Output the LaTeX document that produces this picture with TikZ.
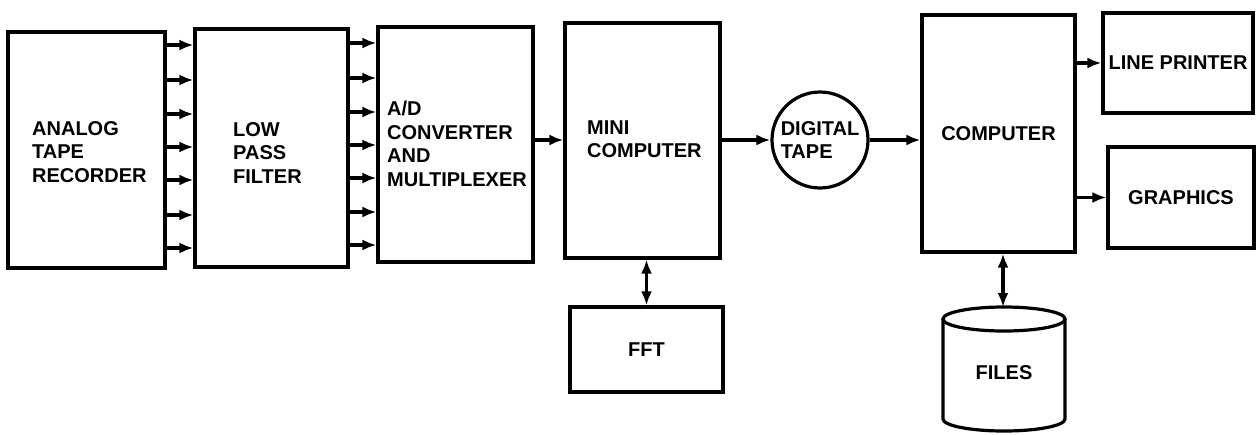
\documentclass[tikz,border=0pt]{standalone}
\usepackage{fontspec}
\setmainfont{Liberation Sans}
\usetikzlibrary{arrows.meta}
\begin{document}
\begin{tikzpicture}[x=1pt,y=1pt,
  blk/.style={draw, line width=3.2pt, rectangle, inner sep=0pt, font=\bfseries\fontsize{20}{23.5}\selectfont, align=center},
  lbl/.style={inner sep=0pt, anchor=west, align=left, font=\bfseries\fontsize{20}{23.5}\selectfont},
  arr/.style={line width=3.4pt, -{Latex[length=14pt,width=11pt]}},
  darr/.style={line width=3.4pt, {Latex[length=14pt,width=11pt]}-{Latex[length=14pt,width=11pt]}}
]
\useasboundingbox (0,0) rectangle (1257,-434);

% boxes
\node[blk, minimum width=157, minimum height=236] (rec) at (86.5,-150) {};
\node[blk, minimum width=153, minimum height=238] (lpf) at (271.5,-148) {};
\node[blk, minimum width=155, minimum height=235] (adc) at (455.5,-144.5) {};
\node[blk, minimum width=155, minimum height=235] (mini) at (642.5,-140.5) {};
\node[blk, circle, minimum size=96, align=left] (tape) at (820,-140) {DIGITAL\\TAPE};
\node[blk, minimum width=153, minimum height=237] (comp) at (998.5,-133.5) {COMPUTER};
\node[blk, minimum width=150, minimum height=100] (lp) at (1178,-63) {LINE PRINTER};
\node[blk, minimum width=146, minimum height=101] (gfx) at (1181,-197.5) {GRAPHICS};
\node[blk, minimum width=153, minimum height=85] (fft) at (646.5,-349.5) {FFT};

% labels
\node[lbl] (rect) at (32,-152) {ANALOG\\TAPE\\RECORDER};
\node[lbl] (lpft) at (233,-153) {LOW\\PASS\\FILTER};
\node[lbl] (adct) at (387,-144) {A/D\\CONVERTER\\AND\\MULTIPLEXER};
\node[lbl] (minit) at (587,-139) {MINI\\COMPUTER};

% files cylinder
\draw[line width=3.2pt] (943,-319) -- (943,-419)
   arc[start angle=180, end angle=360, x radius=61, y radius=12] -- (1065,-319);
\draw[line width=3.2pt] (1004,-319) ellipse [x radius=61, y radius=12];
\node[inner sep=0pt, font=\bfseries\fontsize{20}{23.5}\selectfont] (files) at (1004,-373) {FILES};
\coordinate (filestop) at (1003,-307);

% parallel arrows
\foreach \yy in {45,80,114,147,180,215,248}
  \draw[arr] (rec.east |- 0,-\yy) -- (lpf.west |- 0,-\yy);
\foreach \yy in {43,78,112,145,178,212,245}
  \draw[arr] (lpf.east |- 0,-\yy) -- (adc.west |- 0,-\yy);

\draw[arr] (adc.east |- 0,-140) -- (mini.west |- 0,-140);
\draw[arr] (mini.east |- tape.west) -- (tape.west);
\draw[arr] (tape.east) -- (comp.west |- tape.east);
\draw[arr] (comp.east |- lp.west) -- (lp.west);
\draw[arr] (comp.east |- gfx.west) -- (gfx.west);
\draw[darr] (fft.north |- mini.south) -- (fft.north);
\draw[darr] (filestop |- comp.south) -- (filestop);
\end{tikzpicture}
\end{document}
